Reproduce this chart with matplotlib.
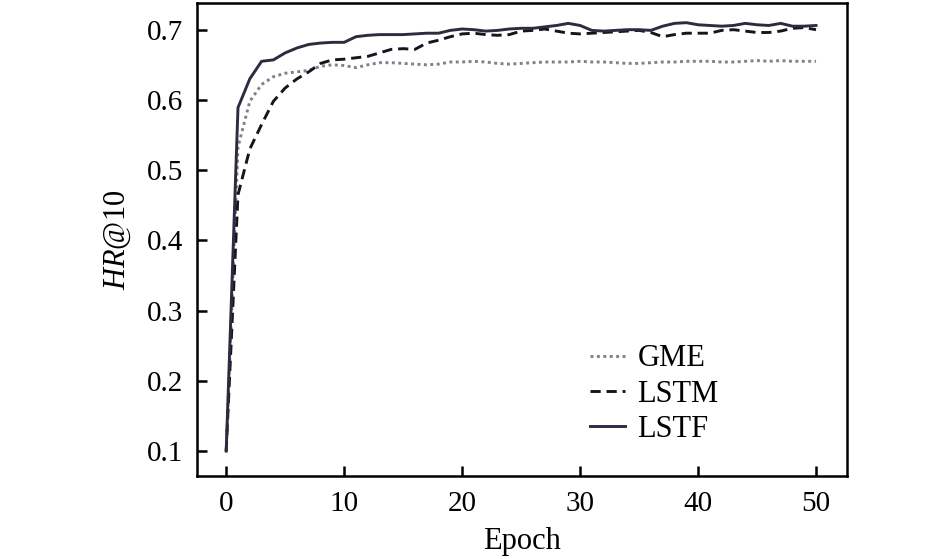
import matplotlib
matplotlib.use("Agg")
import matplotlib.pyplot as plt

plt.rcParams['font.family'] = ['Liberation Serif', 'DejaVu Serif']
plt.rcParams['mathtext.fontset'] = 'custom'
plt.rcParams['mathtext.rm'] = 'Liberation Serif'
plt.rcParams['mathtext.it'] = 'Liberation Serif:italic'

epochs = list(range(51))

gme = [0.100, 0.533, 0.598, 0.622, 0.633, 0.638, 0.640, 0.642, 0.648, 0.650,
       0.649, 0.646, 0.650, 0.653, 0.653, 0.652, 0.651, 0.650, 0.651, 0.654,
       0.654, 0.655, 0.654, 0.652, 0.651, 0.652, 0.653, 0.654, 0.654, 0.654,
       0.655, 0.654, 0.654, 0.653, 0.652, 0.652, 0.653, 0.654, 0.654, 0.655,
       0.655, 0.655, 0.654, 0.654, 0.655, 0.656, 0.655, 0.656, 0.655, 0.655,
       0.655]

lstm = [0.100, 0.465, 0.530, 0.565, 0.598, 0.617, 0.630, 0.640, 0.652, 0.657,
        0.658, 0.660, 0.662, 0.667, 0.672, 0.673, 0.672, 0.681, 0.685, 0.690,
        0.694, 0.695, 0.693, 0.692, 0.693, 0.698, 0.699, 0.701, 0.698, 0.695,
        0.694, 0.695, 0.696, 0.697, 0.698, 0.699, 0.696, 0.690, 0.693, 0.695,
        0.695, 0.695, 0.699, 0.700, 0.698, 0.696, 0.696, 0.698, 0.702, 0.703,
        0.700]

lstf = [0.100, 0.589, 0.630, 0.655, 0.657, 0.667, 0.674, 0.679, 0.681, 0.682,
        0.682, 0.690, 0.692, 0.693, 0.693, 0.693, 0.694, 0.695, 0.695, 0.699,
        0.701, 0.700, 0.698, 0.699, 0.701, 0.702, 0.702, 0.704, 0.706, 0.709,
        0.706, 0.699, 0.698, 0.699, 0.700, 0.700, 0.699, 0.705, 0.709, 0.710,
        0.707, 0.706, 0.705, 0.706, 0.709, 0.707, 0.706, 0.709, 0.705, 0.705,
        0.706]

series_names = ["GME", "LSTM", "LSTF"]
x_ticks = [0, 10, 20, 30, 40, 50]
y_ticks = [0.1, 0.2, 0.3, 0.4, 0.5, 0.6, 0.7]

W, H = 945, 559
fig = plt.figure(figsize=(W / 100, H / 100), dpi=100)
ax = fig.add_axes([196.7 / W, 1 - 475.7 / H, 650 / W, 472.7 / H])

ax.plot(epochs, gme, linestyle=(0, (1, 1.2)), color='#808088', lw=2.1, label=series_names[0])
ax.plot(epochs, lstm, linestyle=(0, (3.5, 2)), color='#151520', lw=2.1, label=series_names[1])
ax.plot(epochs, lstf, linestyle='-', color='#2b2c40', lw=2.1, label=series_names[2])

ax.set_xlim(-2.5, 52.6)
ax.set_ylim(0.065, 0.738)
ax.set_xticks(x_ticks)
ax.set_yticks(y_ticks)
ax.set_yticklabels([f"{v:.1f}" for v in y_ticks])

ax.tick_params(direction='in', length=7, width=1.8, labelsize=21)
ax.tick_params(axis='y', pad=10)
ax.tick_params(axis='x', pad=11)
for s in ax.spines.values():
    s.set_linewidth(1.8)

fig.text(522 / W, 1 - 541 / H, "Epoch", fontsize=22, ha='center', va='center')
fig.text(118 / W, 1 - 240 / H, r"$\mathit{HR}$@10", fontsize=22, rotation=90,
         ha='center', va='center')

ax.legend(loc='center left', bbox_to_anchor=(590 / W, 1 - 394 / H),
          bbox_transform=fig.transFigure, frameon=False, borderpad=0,
          borderaxespad=0, fontsize=22, handlelength=1.15, handletextpad=0.4,
          labelspacing=0.2)

fig.savefig("out.png", dpi=100)
